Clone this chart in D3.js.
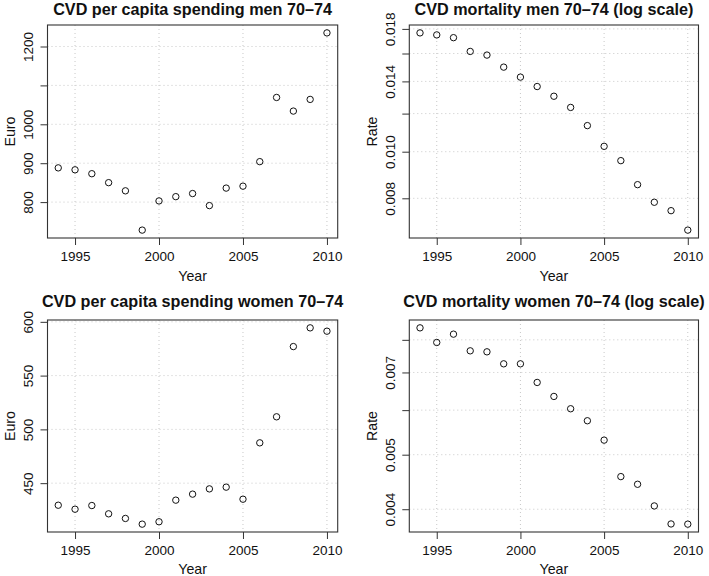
<!DOCTYPE html>
<html>
<head>
<meta charset="utf-8">
<script src="https://cdn.jsdelivr.net/npm/d3@7"></script>
<style>
  html, body { margin: 0; padding: 0; background: #fff; }
  svg { display: block; font-family: "Liberation Sans", Arial, Helvetica, sans-serif; }
</style>
</head>
<body>
<svg id="chart" width="709" height="576"></svg>
<script>
// ---- data ----
const years = [1994,1995,1996,1997,1998,1999,2000,2001,2002,2003,2004,2005,2006,2007,2008,2009,2010];
const spendingMen = [888,883,873,850,829,728,803,814,822,791,836,841,904,1069,1034,1064,1235];
const mortalityMen = [0.01766,0.01749,0.01726,0.01616,0.01588,0.01499,0.01429,0.01366,0.01304,0.01236,0.01133,0.01026,0.00958,0.00854,0.00785,0.00754,0.00687];
const spendingWomen = [429.5,425.8,429.2,421.5,417.2,411.9,414.1,434.2,439.8,444.7,446.3,435.1,487.5,511.7,577,594.4,591.3];
const mortalityWomen = [0.008402,0.007914,0.008188,0.007648,0.007617,0.007252,0.007252,0.006720,0.006346,0.006034,0.005745,0.005307,0.004571,0.004430,0.004054,0.003766,0.003763];

const xTicks = [1995, 2000, 2005, 2010];
const yTicksSpendMen = [800, 900, 1000, 1100, 1200];
const yLabelsSpendMen = [800, 900, 1000, 1200];
const yTicksMortMen = [0.008, 0.010, 0.012, 0.014, 0.016, 0.018];
const yLabelsMortMen = [0.008, 0.010, 0.014, 0.018];
const yTicksSpendWomen = [450, 500, 550, 600];
const yLabelsSpendWomen = [450, 500, 550, 600];
const yTicksMortWomen = [0.004, 0.005, 0.006, 0.007, 0.008];
const yLabelsMortWomen = [0.004, 0.005, 0.007];

const titles = [
  "CVD per capita spending men 70\u201374",
  "CVD mortality men 70\u201374 (log scale)",
  "CVD per capita spending women 70\u201374",
  "CVD mortality women 70\u201374 (log scale)"
];

const panels = [
  {title: titles[0], values: spendingMen, log: false, ticks: yTicksSpendMen, labels: yLabelsSpendMen, ylab: "Euro", fmt: d3.format("d"),
   box: {x0: 47.5, x1: 337.7, y0: 25, y1: 238}, titleY: 15, xlabOff: 43},
  {title: titles[1], values: mortalityMen, log: true, ticks: yTicksMortMen, labels: yLabelsMortMen, ylab: "Rate", fmt: d3.format(".3f"),
   box: {x0: 409.3, x1: 698.5, y0: 25, y1: 238}, titleY: 15, xlabOff: 43},
  {title: titles[2], values: spendingWomen, log: false, ticks: yTicksSpendWomen, labels: yLabelsSpendWomen, ylab: "Euro", fmt: d3.format("d"),
   box: {x0: 47.5, x1: 337.7, y0: 320, y1: 532}, titleY: 307, xlabOff: 41.5},
  {title: titles[3], values: mortalityWomen, log: true, ticks: yTicksMortWomen, labels: yLabelsMortWomen, ylab: "Rate", fmt: d3.format(".3f"),
   box: {x0: 409.3, x1: 698.5, y0: 320, y1: 532}, titleY: 307, xlabOff: 41.5}
];

const svg = d3.select("#chart");
const axisCol = "#333";
const gridCol = "#c8c8c8";

function extend(lo, hi) { const d = (hi - lo) * 0.04; return [lo - d, hi + d]; }

panels.forEach(p => {
  const b = p.box;
  const xd = extend(d3.min(years), d3.max(years));
  const x = d3.scaleLinear().domain(xd).range([b.x0, b.x1]);
  let y;
  if (p.log) {
    const [l0, l1] = extend(Math.log(d3.min(p.values)), Math.log(d3.max(p.values)));
    y = d3.scaleLog().domain([Math.exp(l0), Math.exp(l1)]).range([b.y1, b.y0]);
  } else {
    y = d3.scaleLinear().domain(extend(d3.min(p.values), d3.max(p.values))).range([b.y1, b.y0]);
  }
  const g = svg.append("g");

  // grid
  g.selectAll("line.gx").data(xTicks).join("line")
    .attr("x1", d => x(d)).attr("x2", d => x(d)).attr("y1", b.y0).attr("y2", b.y1)
    .attr("stroke", gridCol).attr("stroke-dasharray", "1,3").attr("stroke-width", 1);
  g.selectAll("line.gy").data(p.ticks).join("line")
    .attr("y1", d => y(d)).attr("y2", d => y(d)).attr("x1", b.x0).attr("x2", b.x1)
    .attr("stroke", gridCol).attr("stroke-dasharray", "1,3").attr("stroke-width", 1);

  // x axis
  const xa = g.append("g").attr("transform", `translate(0,${b.y1})`)
    .call(d3.axisBottom(x).tickValues(xTicks).tickSize(7).tickPadding(6).tickFormat(d3.format("d")));
  xa.select(".domain").remove();
  xa.selectAll("line").attr("stroke", axisCol);
  xa.selectAll("text").attr("font-size", 13.5).attr("fill", "#111").attr("font-family", null);

  // y axis
  const ya = g.append("g").attr("transform", `translate(${b.x0},0)`)
    .call(d3.axisLeft(y).tickValues(p.ticks).tickSize(7).tickFormat(d => p.labels.some(v => Math.abs(v - d) < 1e-9) ? p.fmt(d) : ""));
  ya.select(".domain").remove();
  ya.selectAll("line").attr("stroke", axisCol);
  ya.selectAll("text")
    .attr("font-size", 13.5).attr("fill", "#111").attr("font-family", null)
    .attr("x", 0).attr("y", -14).attr("dy", 0)
    .attr("text-anchor", "middle")
    .attr("transform", "translate(-0.5,0) rotate(-90)");

  // box
  g.append("rect").attr("x", b.x0).attr("y", b.y0).attr("width", b.x1 - b.x0).attr("height", b.y1 - b.y0)
    .attr("fill", "none").attr("stroke", axisCol).attr("stroke-width", 1.1);

  // points
  g.selectAll("circle").data(years.map((yr, i) => [yr, p.values[i]])).join("circle")
    .attr("cx", d => x(d[0])).attr("cy", d => y(d[1])).attr("r", 3.2)
    .attr("fill", "none").attr("stroke", "#111").attr("stroke-width", 1);

  // title
  g.append("text").attr("x", (b.x0 + b.x1) / 2).attr("y", p.titleY)
    .attr("text-anchor", "middle").attr("font-weight", "bold").attr("font-size", 16.2).attr("fill", "#111")
    .text(p.title);

  // x label
  g.append("text").attr("x", (b.x0 + b.x1) / 2).attr("y", b.y1 + p.xlabOff)
    .attr("text-anchor", "middle").attr("font-size", 14.2).attr("fill", "#111").text("Year");

  // y label
  g.append("text").attr("transform", `translate(${b.x0 - 32.5},${(b.y0 + b.y1) / 2}) rotate(-90)`)
    .attr("text-anchor", "middle").attr("font-size", 14.2).attr("fill", "#111").text(p.ylab);
});
</script>
</body>
</html>
